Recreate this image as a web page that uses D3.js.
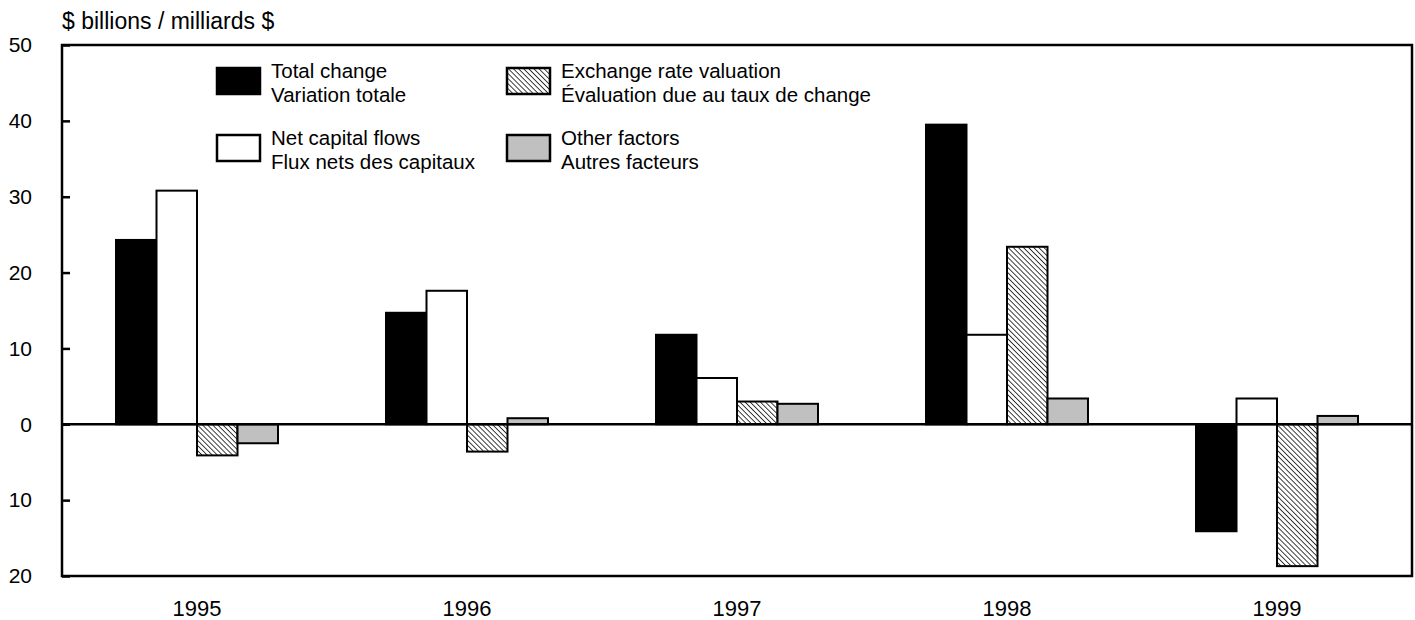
<!DOCTYPE html>
<html>
<head>
<meta charset="utf-8">
<script src="https://cdn.jsdelivr.net/npm/d3@7"></script>
<style>
  body { margin: 0; background: #fff; }
  text { font-family: "Liberation Sans", Arial, sans-serif; fill: #000; }
</style>
</head>
<body>
<svg width="1415" height="620"></svg>
<script>
// data
var years = ["1995", "1996", "1997", "1998", "1999"];
var series = ["total", "net", "exchange", "other"];
var total_change = [24.3, 14.7, 11.8, 39.5, -14.1];
var net_flows = [30.8, 17.6, 6.1, 11.8, 3.4];
var exchange_val = [-4.1, -3.6, 3.0, 23.4, -18.7];
var other_factors = [-2.5, 0.8, 2.7, 3.4, 1.1];
var y_ticks = [50, 40, 30, 20, 10, 0, -10, -20];
var legend_labels = [
  ["Total change", "Variation totale"],
  ["Net capital flows", "Flux nets des capitaux"],
  ["Exchange rate valuation", "\u00c9valuation due au taux de change"],
  ["Other factors", "Autres facteurs"]
];

var values = [total_change, net_flows, exchange_val, other_factors];

var svg = d3.select("svg");
var m_left = 62, m_right = 1412, m_top = 45, m_bottom = 576;

var defs = svg.append("defs");
var pat = defs.append("pattern")
  .attr("id", "hatch")
  .attr("patternUnits", "userSpaceOnUse")
  .attr("width", 3.6).attr("height", 3.6)
  .attr("patternTransform", "rotate(-45)");
pat.append("rect").attr("width", 3.6).attr("height", 3.6).attr("fill", "#fff");
pat.append("line").attr("x1", 0).attr("y1", 0).attr("x2", 0).attr("y2", 3.6)
  .attr("stroke", "#000").attr("stroke-width", 1.5);

function fill_of(s) {
  if (s == "total") return "#000";
  if (s == "net") return "#fff";
  if (s == "exchange") return "url(#hatch)";
  return "#c0c0c0";
}

var y = d3.scaleLinear().domain([-20, 50]).range([m_bottom, m_top]);
var x0 = d3.scaleBand().domain(years).range([m_left, m_right]);
var x1 = d3.scaleBand().domain(series)
  .range([x0.bandwidth() * 0.2, x0.bandwidth() * 0.8]);

// title
svg.append("text").attr("x", 62).attr("y", 29)
  .style("font-size", "23px").text("$ billions / milliards $");

// bars
var groups = svg.append("g").selectAll("g")
  .data(years).enter().append("g")
  .attr("transform", function(d) { return "translate(" + x0(d) + ",0)"; });

groups.selectAll("rect")
  .data(function(d, i) {
    return series.map(function(s, j) { return {s: s, v: values[j][i]}; });
  })
  .enter().append("rect")
  .attr("x", function(d) { return x1(d.s); })
  .attr("width", x1.bandwidth())
  .attr("y", function(d) { return y(Math.max(0, d.v)); })
  .attr("height", function(d) { return Math.abs(y(d.v) - y(0)); })
  .attr("fill", function(d) { return fill_of(d.s); })
  .attr("stroke", "#000")
  .attr("stroke-width", 2);

// zero line
svg.append("line")
  .attr("x1", m_left).attr("x2", m_right)
  .attr("y1", y(0)).attr("y2", y(0))
  .attr("stroke", "#000").attr("stroke-width", 2.5);

// frame
svg.append("rect")
  .attr("x", m_left).attr("y", m_top)
  .attr("width", m_right - m_left).attr("height", m_bottom - m_top)
  .attr("fill", "none").attr("stroke", "#000").attr("stroke-width", 2.5);

// y axis, ticks inside
var yAxis = d3.axisRight(y).tickValues(y_ticks)
  .tickSize(8).tickFormat(function(d) { return Math.abs(d); });
var ya = svg.append("g").attr("transform", "translate(" + m_left + ",0)").call(yAxis);
ya.select(".domain").remove();
ya.selectAll("line").attr("stroke", "#000").attr("stroke-width", 2.5);
ya.selectAll("text")
  .attr("x", -30).attr("text-anchor", "end")
  .style("font-size", "21px").style("font-family", "Liberation Sans, Arial, sans-serif");

// x axis labels
var xAxis = d3.axisBottom(x0).tickSize(0).tickPadding(24);
var xa = svg.append("g").attr("transform", "translate(0," + m_bottom + ")").call(xAxis);
xa.select(".domain").remove();
xa.selectAll("text").style("font-size", "22px")
  .style("font-family", "Liberation Sans, Arial, sans-serif");

// legend
var leg_pos = [[217, 68], [217, 135], [507, 68], [507, 135]];
var legend = svg.append("g").selectAll("g")
  .data(series).enter().append("g")
  .attr("transform", function(d, i) { return "translate(" + leg_pos[i] + ")"; });

legend.append("rect")
  .attr("width", 43).attr("height", 26)
  .attr("fill", function(d) { return fill_of(d); })
  .attr("stroke", "#000").attr("stroke-width", 2.5);

legend.each(function(d, i) {
  var g = d3.select(this);
  g.append("text").attr("x", 54).attr("y", 10)
    .style("font-size", "20.5px").text(legend_labels[i][0]);
  g.append("text").attr("x", 54).attr("y", 34)
    .style("font-size", "20.5px").text(legend_labels[i][1]);
});
</script>
</body>
</html>
